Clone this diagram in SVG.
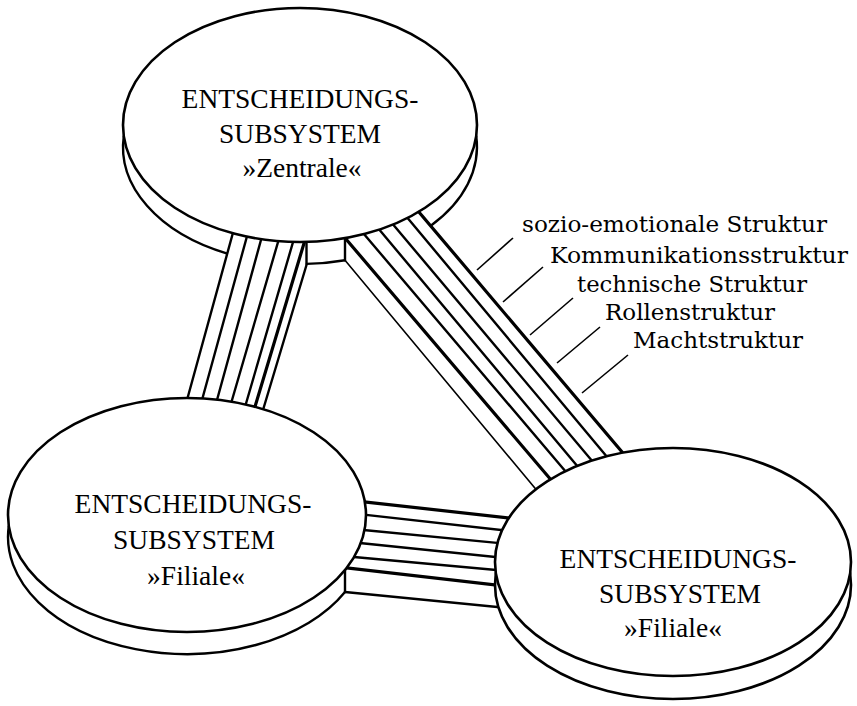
<svg xmlns="http://www.w3.org/2000/svg" width="857" height="706" viewBox="0 0 857 706">
<style>
.ln{fill:none;stroke:#000;stroke-width:2.4;stroke-linecap:round}
.thk{stroke-width:3.2}
.thn{stroke-width:1.6}
.face{fill:#fff;stroke:#000;stroke-width:2.6}
.rim{fill:none;stroke:#000;stroke-width:2.4}
.lead{stroke:#000;stroke-width:1.6;fill:none}
.ttl{font-family:"Liberation Serif","Times New Roman",serif;font-size:27.5px;text-anchor:middle;fill:#000}
.lbl{font-family:"DejaVu Serif","Liberation Serif",serif;font-size:23px;fill:#000}
</style>
<rect width="857" height="706" fill="#fff"/>
<g id="connectors">
  <g id="conn-zentrale-filiale-left">
    <line class="ln" x1="235.1" y1="225" x2="181.5" y2="420"/>
    <line class="ln" x1="250.1" y1="225" x2="196.5" y2="420"/>
    <line class="ln" x1="265.1" y1="225" x2="211.5" y2="420"/>
    <line class="ln" x1="283" y1="225" x2="226.2" y2="420"/>
    <line class="ln" x1="298" y1="225" x2="241.2" y2="420"/>
    <line class="ln thk" x1="309.5" y1="225" x2="251" y2="420"/>
    <line class="ln" x1="306.8" y1="264" x2="260" y2="420"/>
  </g>
  <g id="conn-zentrale-filiale-right">
    <line class="ln thn" x1="345" y1="260.2" x2="554" y2="511"/>
    <line class="ln thk" x1="337" y1="228.5" x2="569" y2="501"/>
    <line class="ln" x1="355" y1="223.5" x2="583" y2="492"/>
    <line class="ln" x1="370" y1="218.5" x2="594" y2="486"/>
    <line class="ln" x1="383" y1="212.5" x2="609" y2="481"/>
    <line class="ln" x1="398" y1="206.5" x2="623" y2="476"/>
    <line class="ln thk" x1="410" y1="201.5" x2="639" y2="472"/>
  </g>
  <g id="conn-filiale-filiale">
    <line class="ln thk" x1="355" y1="500.9" x2="525" y2="519.7"/>
    <line class="ln" x1="357" y1="513.9" x2="525" y2="532.6"/>
    <line class="ln" x1="353" y1="529" x2="525" y2="545.6"/>
    <line class="ln" x1="350" y1="542" x2="525" y2="560.1"/>
    <line class="ln" x1="343" y1="556" x2="525" y2="572.7"/>
    <line class="ln thk" x1="340" y1="567.2" x2="525" y2="588.4"/>
    <line class="ln" x1="345" y1="592" x2="525" y2="609.8"/>
    <line class="ln" x1="345" y1="568" x2="345" y2="592"/>
  </g>
</g>
<g id="node-zentrale">
  <path class="rim" d="M123.8,136 A177,117 0 0 0 227.3,253.6"/>
  <path class="rim" d="M306.5,263.9 A177,117 0 0 0 345,260.2"/>
  <path class="rim" d="M430.8,225.7 A177,117 0 0 0 476.2,136"/>
  <line class="ln" x1="306.5" y1="240" x2="306.5" y2="263.9"/>
  <line class="ln" x1="345" y1="237" x2="345" y2="260.2"/>
  <ellipse class="face" cx="300" cy="125" rx="177" ry="117"/>
  <text class="ttl" x="300" y="108">ENTSCHEIDUNGS-</text>
  <text class="ttl" x="300" y="143">SUBSYSTEM</text>
  <text class="ttl" x="302" y="177">»Zentrale«</text>
</g>
<g id="node-filiale-left">
  <path class="rim" d="M8.8,526 A179,117 0 0 0 345,592"/>
  <ellipse class="face" cx="187" cy="515" rx="179" ry="117"/>
  <text class="ttl" x="193" y="513">ENTSCHEIDUNGS-</text>
  <text class="ttl" x="194" y="549">SUBSYSTEM</text>
  <text class="ttl" x="196" y="585">»Filiale«</text>
</g>
<g id="node-filiale-right">
  <ellipse class="face" cx="673" cy="585" rx="178" ry="114"/>
  <ellipse class="face" cx="673" cy="562" rx="178" ry="114"/>
  <text class="ttl" x="678" y="568">ENTSCHEIDUNGS-</text>
  <text class="ttl" x="680" y="603">SUBSYSTEM</text>
  <text class="ttl" x="673" y="637">»Filiale«</text>
</g>
<g id="legend">
  <line class="lead" x1="477" y1="270" x2="513" y2="238"/>
  <line class="lead" x1="503" y1="302" x2="543" y2="267"/>
  <line class="lead" x1="530" y1="335" x2="573" y2="298"/>
  <line class="lead" x1="557" y1="363" x2="600" y2="327"/>
  <line class="lead" x1="582" y1="393" x2="628" y2="355"/>
  <text class="lbl" x="522" y="232" textLength="305" lengthAdjust="spacingAndGlyphs">sozio-emotionale Struktur</text>
  <text class="lbl" x="550" y="263" textLength="298" lengthAdjust="spacingAndGlyphs">Kommunikationsstruktur</text>
  <text class="lbl" x="577" y="292" textLength="230" lengthAdjust="spacingAndGlyphs">technische Struktur</text>
  <text class="lbl" x="605" y="320" textLength="170" lengthAdjust="spacingAndGlyphs">Rollenstruktur</text>
  <text class="lbl" x="633" y="348" textLength="170" lengthAdjust="spacingAndGlyphs">Machtstruktur</text>
</g>
</svg>
